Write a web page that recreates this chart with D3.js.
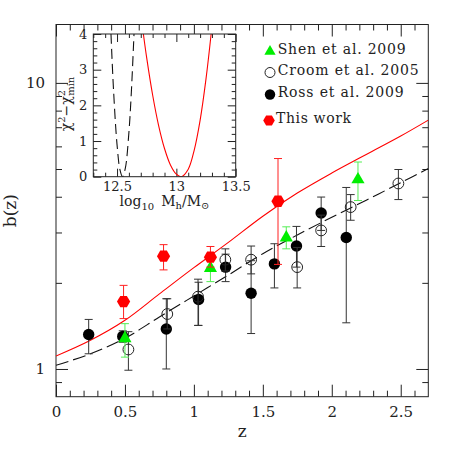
<!DOCTYPE html>
<html>
<head>
<meta charset="utf-8">
<script src="https://cdn.jsdelivr.net/npm/d3@7"></script>
<style>
  body { margin: 0; background: #fff; }
  svg { display: block; }
  text { font-family: "DejaVu Serif", serif; fill: #222; }
</style>
</head>
<body>
<div id="chart"></div>
<script>
// ---- values ----

// model curves b(z)
const modelZ      = [0, 0.25, 0.5, 0.75, 1.0, 1.25, 1.5, 1.75, 2.0, 2.25, 2.5, 2.7];
const modelThis   = [1.11, 1.26, 1.48, 1.83, 2.26, 2.77, 3.42, 4.12, 4.84, 5.62, 6.52, 7.41];
const modelCroom  = [1.03, 1.13, 1.28, 1.52, 1.80, 2.13, 2.53, 2.94, 3.39, 3.89, 4.48, 5.02];

// This work (red hexagons)
const thisZ  = [0.49, 0.78, 1.12, 1.61];
const thisB  = [1.72, 2.48, 2.46, 3.86];
const thisLo = [1.50, 2.22, 2.27, 2.32];
const thisHi = [1.96, 2.72, 2.68, 5.44];

// Shen et al. 2009 (green triangles)
const shenZ  = [0.50, 1.12, 1.67, 2.19];
const shenB  = [1.29, 2.27, 2.90, 4.63];
const shenLo = [1.10, 2.02, 2.63, 3.88];
const shenHi = [1.44, 2.50, 3.14, 5.29];

// Croom et al. 2005 (open circles)
const croomZ  = [0.525, 0.807, 1.03, 1.228, 1.415, 1.749, 1.923, 2.137, 2.483];
const croomB  = [1.17, 1.556, 1.79, 2.41, 2.41, 2.27, 3.05, 3.68, 4.45];
const croomLo = [0.99, 1.38, 1.42, 2.20, 2.15, 1.92, 2.68, 3.31, 3.91];
const croomHi = [1.35, 1.76, 2.06, 2.63, 2.69, 2.66, 3.45, 4.07, 4.98];

// Ross et al. 2009 (filled circles)
const rossZ  = [0.237, 0.484, 0.80, 1.034, 1.23, 1.415, 1.584, 1.744, 1.923, 2.105];
const rossB  = [1.32, 1.30, 1.38, 1.75, 2.27, 1.84, 2.33, 2.69, 3.51, 2.88];
const rossLo = [1.13, 1.24, 1.00, 1.42, 2.02, 1.33, 1.92, 2.27, 3.05, 1.45];
const rossHi = [1.49, 1.36, 1.76, 2.01, 2.52, 2.39, 2.74, 3.15, 3.99, 4.31];

// inset: delta chi^2 vs log10 halo mass
const chiRedM  = [12.722, 12.75, 12.8, 12.85, 12.9, 12.95, 13.0, 13.042, 13.1, 13.15, 13.2, 13.25, 13.293];
const chiRedD  = [4.0, 3.33, 2.29, 1.44, 0.79, 0.33, 0.07, 0.0, 0.21, 0.74, 1.58, 2.75, 4.0];
const chiBlkM  = [12.449, 12.47, 12.5, 12.525, 12.546, 12.57, 12.6, 12.62, 12.643];
const chiBlkD  = [4.0, 2.46, 0.9, 0.19, 0.0, 0.24, 1.24, 2.33, 4.0];

const xMajor = [0, 0.5, 1, 1.5, 2, 2.5];
const yMajor = [1, 10];
const yMinor = [0.9, 2, 3, 4, 5, 6, 7, 8, 9];
const insetXMajor = [12.5, 13, 13.5];
const insetYMajor = [0, 1, 2, 3, 4];

// ---- layout ----
const W = 452, H = 452;
const box = { left: 56, right: 428.3, top: 24.5, bottom: 396.7 };
const inBox = { left: 93.3, right: 235.7, top: 34, bottom: 176.7 };

const svg = d3.select('#chart').append('svg')
    .attr('width', W).attr('height', H);

const x = d3.scaleLinear().domain([0, 2.7]).range([box.left, box.right]);
const y = d3.scaleLog().domain([0.8, 16]).range([box.bottom, box.top]);

const ink = '#222';

// ticks helper: inward ticks, no domain line
function axisG(gen, tx, ty) {
    const g = svg.append('g').attr('transform', `translate(${tx},${ty})`).call(gen);
    g.select('.domain').remove();
    g.selectAll('line').attr('stroke', ink);
    return g;
}

// main axes
const xMinor = d3.range(0, 27).map(i => i / 10).filter(v => !xMajor.includes(v));
axisG(d3.axisBottom(x).tickValues(xMajor).tickSize(-12).tickPadding(10)
    .tickFormat(d => String(d)), 0, box.bottom)
    .selectAll('text').attr('font-size', 15).attr('font-family', '"DejaVu Serif", serif').attr('fill', ink);
axisG(d3.axisBottom(x).tickValues(xMinor).tickSize(-6).tickFormat(''), 0, box.bottom);
axisG(d3.axisTop(x).tickValues(xMajor).tickSize(-12).tickFormat(''), 0, box.top);
axisG(d3.axisTop(x).tickValues(xMinor).tickSize(-6).tickFormat(''), 0, box.top);

axisG(d3.axisLeft(y).tickValues(yMajor).tickSize(-12).tickPadding(11)
    .tickFormat(d => String(d)), box.left, 0)
    .selectAll('text').attr('font-size', 15).attr('font-family', '"DejaVu Serif", serif').attr('fill', ink);
axisG(d3.axisLeft(y).tickValues(yMinor).tickSize(-6).tickFormat(''), box.left, 0);
axisG(d3.axisRight(y).tickValues(yMajor).tickSize(-12).tickFormat(''), box.right, 0);
axisG(d3.axisRight(y).tickValues(yMinor).tickSize(-6).tickFormat(''), box.right, 0);

svg.append('rect')
    .attr('x', box.left).attr('y', box.top)
    .attr('width', box.right - box.left).attr('height', box.bottom - box.top)
    .attr('fill', 'none').attr('stroke', ink).attr('stroke-width', 1);

// axis titles
svg.append('text').attr('x', (box.left + box.right) / 2).attr('y', 437)
    .attr('text-anchor', 'middle').attr('font-size', 17).text('z');
svg.append('text').attr('transform', `translate(16,${(box.top + box.bottom) / 2}) rotate(-90)`)
    .attr('text-anchor', 'middle').attr('font-size', 17).text('b(z)');

// model curves
svg.append('clipPath').attr('id', 'plotclip').append('rect')
    .attr('x', box.left).attr('y', box.top)
    .attr('width', box.right - box.left).attr('height', box.bottom - box.top);

const bLine = d3.line().x(d => x(d[0])).y(d => y(d[1])).curve(d3.curveCatmullRom);
svg.append('path').datum(modelZ.map((z, i) => [z, modelThis[i]]))
    .attr('clip-path', 'url(#plotclip)')
    .attr('d', bLine).attr('fill', 'none').attr('stroke', '#ff0000').attr('stroke-width', 1.1);
svg.append('path').datum(modelZ.map((z, i) => [z, modelCroom[i]]))
    .attr('clip-path', 'url(#plotclip)')
    .attr('d', bLine).attr('fill', 'none').attr('stroke', '#111').attr('stroke-width', 1.1)
    .attr('stroke-dasharray', '13,5');

// error bars + markers
function errorBars(zs, bs, lo, hi, color) {
    const g = svg.append('g').attr('stroke', color).attr('stroke-width', 1);
    zs.forEach((z, i) => {
        const cx = x(z);
        g.append('line').attr('x1', cx).attr('x2', cx).attr('y1', y(lo[i])).attr('y2', y(hi[i]));
        g.append('line').attr('x1', cx - 4).attr('x2', cx + 4).attr('y1', y(lo[i])).attr('y2', y(lo[i]));
        g.append('line').attr('x1', cx - 4).attr('x2', cx + 4).attr('y1', y(hi[i])).attr('y2', y(hi[i]));
    });
}

function hexPath(r) {
    const pts = d3.range(6).map(k => [r * Math.cos(k * Math.PI / 3), r * Math.sin(k * Math.PI / 3)]);
    return 'M' + pts.map(p => p.join(',')).join('L') + 'Z';
}

const triangle = s => d3.symbol().type(d3.symbolTriangle).size(s)();

// Ross
errorBars(rossZ, rossB, rossLo, rossHi, '#333');
svg.append('g').selectAll('circle').data(rossZ).join('circle')
    .attr('cx', d => x(d)).attr('cy', (d, i) => y(rossB[i])).attr('r', 5.7)
    .attr('fill', '#000');

// Croom
errorBars(croomZ, croomB, croomLo, croomHi, '#333');
svg.append('g').selectAll('circle').data(croomZ).join('circle')
    .attr('cx', d => x(d)).attr('cy', (d, i) => y(croomB[i])).attr('r', 5.4)
    .attr('fill', 'none').attr('stroke', '#222').attr('stroke-width', 1);

// Shen
errorBars(shenZ, shenB, shenLo, shenHi, '#55ee55');
svg.append('g').selectAll('path').data(shenZ).join('path')
    .attr('transform', (d, i) => `translate(${x(d)},${y(shenB[i]) + 1})`)
    .attr('d', triangle(75)).attr('fill', '#00ee00');

// This work
errorBars(thisZ, thisB, thisLo, thisHi, '#ff2020');
svg.append('g').selectAll('path').data(thisZ).join('path')
    .attr('transform', (d, i) => `translate(${x(d)},${y(thisB[i])})`)
    .attr('d', hexPath(6.6)).attr('fill', '#ff0000');

// legend
const legendRows = [
    { label: 'Shen et al. 2009',  y: 53.5, len: 128, kind: 'tri' },
    { label: 'Croom et al. 2005', y: 74.5, len: 141, kind: 'open' },
    { label: 'Ross et al. 2009',  y: 96.5, len: 126, kind: 'dot' },
    { label: 'This work',         y: 122.5, len: 75, kind: 'hex' }
];
const leg = svg.append('g');
legendRows.forEach(r => {
    const sx = 270, sy = r.y - 2;
    if (r.kind === 'tri') leg.append('path').attr('transform', `translate(${sx},${sy})`).attr('d', triangle(55)).attr('fill', '#00ee00');
    if (r.kind === 'open') leg.append('circle').attr('cx', sx).attr('cy', sy).attr('r', 5).attr('fill', 'none').attr('stroke', '#222');
    if (r.kind === 'dot') leg.append('circle').attr('cx', sx).attr('cy', sy).attr('r', 5.2).attr('fill', '#000');
    if (r.kind === 'hex') leg.append('path').attr('transform', `translate(${sx - 1},${sy})`).attr('d', hexPath(5.8)).attr('fill', '#ff0000');
    leg.append('text').attr('x', r.kind === 'hex' ? 276 : 277.7).attr('y', r.y)
        .attr('font-size', 14).attr('textLength', r.len).attr('lengthAdjust', 'spacing')
        .text(r.label);
});

// ---- inset ----
const ix = d3.scaleLinear().domain([12.3, 13.5]).range([inBox.left, inBox.right]);
const iy = d3.scaleLinear().domain([0, 4]).range([inBox.bottom, inBox.top]);

svg.append('rect')
    .attr('x', inBox.left).attr('y', inBox.top)
    .attr('width', inBox.right - inBox.left).attr('height', inBox.bottom - inBox.top)
    .attr('fill', '#fff');

const ixMinor = d3.range(123, 136).map(v => v / 10).filter(v => !insetXMajor.includes(v));
const iyMinor = d3.range(0, 21).map(v => v / 5).filter(v => !insetYMajor.includes(v));

axisG(d3.axisBottom(ix).tickValues(insetXMajor).tickSize(-8).tickPadding(5)
    .tickFormat(d => String(d)), 0, inBox.bottom)
    .selectAll('text').attr('font-size', 13).attr('font-family', '"DejaVu Serif", serif').attr('fill', ink);
axisG(d3.axisBottom(ix).tickValues(ixMinor).tickSize(-4).tickFormat(''), 0, inBox.bottom);
axisG(d3.axisTop(ix).tickValues(insetXMajor).tickSize(-8).tickFormat(''), 0, inBox.top);
axisG(d3.axisTop(ix).tickValues(ixMinor).tickSize(-4).tickFormat(''), 0, inBox.top);
axisG(d3.axisLeft(iy).tickValues(insetYMajor).tickSize(-8).tickPadding(6)
    .tickFormat(d => String(d)), inBox.left, 0)
    .selectAll('text').attr('font-size', 13).attr('font-family', '"DejaVu Serif", serif').attr('fill', ink);
axisG(d3.axisLeft(iy).tickValues(iyMinor).tickSize(-4).tickFormat(''), inBox.left, 0);
axisG(d3.axisRight(iy).tickValues(insetYMajor).tickSize(-8).tickFormat(''), inBox.right, 0);
axisG(d3.axisRight(iy).tickValues(iyMinor).tickSize(-4).tickFormat(''), inBox.right, 0);

svg.append('clipPath').attr('id', 'insetclip').append('rect')
    .attr('x', inBox.left).attr('y', inBox.top - 1)
    .attr('width', inBox.right - inBox.left).attr('height', inBox.bottom - inBox.top + 1);

const chiLine = d3.line().x(d => ix(d[0])).y(d => iy(d[1])).curve(d3.curveCatmullRom);
svg.append('path').datum(chiRedM.map((m, i) => [m, chiRedD[i]]))
    .attr('clip-path', 'url(#insetclip)')
    .attr('d', chiLine).attr('fill', 'none').attr('stroke', '#ff0000').attr('stroke-width', 1.1);
svg.append('path').datum(chiBlkM.map((m, i) => [m, chiBlkD[i]]))
    .attr('clip-path', 'url(#insetclip)')
    .attr('d', chiLine).attr('fill', 'none').attr('stroke', '#111').attr('stroke-width', 1.1)
    .attr('stroke-dasharray', '10,5');

svg.append('rect')
    .attr('x', inBox.left).attr('y', inBox.top)
    .attr('width', inBox.right - inBox.left).attr('height', inBox.bottom - inBox.top)
    .attr('fill', 'none').attr('stroke', ink).attr('stroke-width', 1);

// inset titles
const ixt = svg.append('text').attr('x', (inBox.left + inBox.right) / 2).attr('y', 206)
    .attr('text-anchor', 'middle').attr('font-size', 14);
ixt.append('tspan').text('log');
ixt.append('tspan').attr('dy', 4).attr('font-size', 10).text('10');
ixt.append('tspan').attr('dy', -4).text('\u2002M');
ixt.append('tspan').attr('dy', 3).attr('font-size', 10).text('h');
ixt.append('tspan').attr('dy', -3).text('/M');
ixt.append('tspan').attr('dy', 3).attr('font-size', 10).text('\u2299');

const iyt = svg.append('text').attr('transform', `translate(71,104) rotate(-90)`)
    .attr('text-anchor', 'middle').attr('font-size', 14);
iyt.append('tspan').text('\u03c7');
iyt.append('tspan').attr('dy', -6).attr('font-size', 10).text('2');
iyt.append('tspan').attr('dy', 6).text('\u2212\u03c7');
iyt.append('tspan').attr('dy', -6).attr('font-size', 10).text('2');
iyt.append('tspan').attr('dx', -6).attr('dy', 9).attr('font-size', 10).text('min');
</script>
</body>
</html>
